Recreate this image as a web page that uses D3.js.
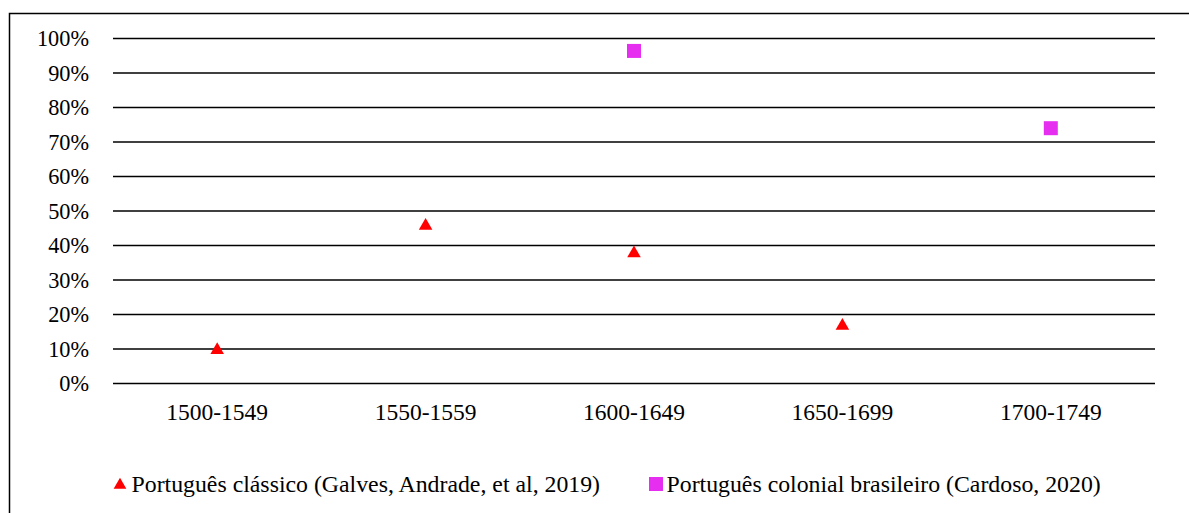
<!DOCTYPE html>
<html>
<head>
<meta charset="utf-8">
<script src="https://cdn.jsdelivr.net/npm/d3@7"></script>
<style>
  body { margin: 0; background: #fff; }
  svg text { font-family: "Liberation Serif", "Times New Roman", "DejaVu Serif", serif; }
</style>
</head>
<body>
<div class="chart"></div>
<script>
const categories = ['1500-1549', '1550-1559', '1600-1649', '1650-1699', '1700-1749']
const yTicks = [0, 0.1, 0.2, 0.3, 0.4, 0.5, 0.6, 0.7, 0.8, 0.9, 1]
// null = no point for that period
const classico = [0.10, 0.46, 0.38, 0.17, null]
const colonial = [null, null, 0.964, null, 0.74]
const seriesNames = [
  'Português clássico (Galves, Andrade, et al, 2019)',
  'Português colonial brasileiro (Cardoso, 2020)'
]

{
  const width = 1189, height = 513
  const margin = { left: 113, right: 34, top: 38.5, bottom: 129.5 }
  const font = "'Liberation Serif', 'Times New Roman', serif"
  const svg = d3.select('.chart').append('svg')
    .attr('width', width)
    .attr('height', height)

  // outer frame (right and bottom edges fall outside the picture)
  svg.append('rect')
    .attr('x', 9.5).attr('y', 13.5)
    .attr('width', width).attr('height', height)
    .attr('fill', 'none')
    .attr('stroke', '#000')
    .attr('stroke-width', 1.5)

  let x = d3.scaleBand()
    .domain(categories)
    .range([margin.left, width - margin.right])
  let y = d3.scaleLinear()
    .domain([0, 1])
    .range([height - margin.bottom, margin.top])
  let cx = cat => x(cat) + x.bandwidth() / 2

  // gridlines
  svg.append('g').selectAll('line')
    .data(yTicks)
    .enter()
    .append('line')
    .attr('x1', margin.left)
    .attr('x2', width - margin.right)
    .attr('y1', d => y(d))
    .attr('y2', d => y(d))
    .attr('stroke', '#000')
    .attr('stroke-width', 1.6)

  // y labels
  svg.append('g').selectAll('text')
    .data(yTicks)
    .enter()
    .append('text')
    .attr('x', 89)
    .attr('y', d => y(d))
    .attr('dy', '0.34em')
    .attr('text-anchor', 'end')
    .attr('font-family', font)
    .attr('font-size', 22.3)
    .text(d => d3.format('.0%')(d))

  // x labels
  svg.append('g').selectAll('text')
    .data(categories)
    .enter()
    .append('text')
    .attr('x', d => cx(d))
    .attr('y', 420)
    .attr('text-anchor', 'middle')
    .attr('font-family', font)
    .attr('font-size', 23.5)
    .text(d => d)

  let tri = d3.symbol().type(d3.symbolTriangle).size(80)

  let classicoPts = classico.map((v, i) => ({ v, cat: categories[i] })).filter(d => d.v !== null)
  svg.append('g').selectAll('path')
    .data(classicoPts)
    .enter()
    .append('path')
    .attr('d', tri)
    .attr('transform', d => `translate(${cx(d.cat)},${y(d.v) + 1})`)
    .attr('fill', '#ff0000')

  let colonialPts = colonial.map((v, i) => ({ v, cat: categories[i] })).filter(d => d.v !== null)
  svg.append('g').selectAll('rect')
    .data(colonialPts)
    .enter()
    .append('rect')
    .attr('x', d => cx(d.cat) - 7)
    .attr('y', d => y(d.v) - 7)
    .attr('width', 14)
    .attr('height', 14)
    .attr('fill', '#e62ef0')

  // legend
  let legend = svg.append('g')
    .attr('font-family', font)
    .attr('font-size', 23.8)
  legend.append('path')
    .attr('d', d3.symbol().type(d3.symbolTriangle).size(70))
    .attr('transform', 'translate(120,485)')
    .attr('fill', '#ff0000')
  legend.append('text')
    .attr('x', 131.5).attr('y', 492)
    .text(seriesNames[0])
  legend.append('rect')
    .attr('x', 649).attr('y', 477)
    .attr('width', 14).attr('height', 14)
    .attr('fill', '#e62ef0')
  legend.append('text')
    .attr('x', 666.5).attr('y', 492)
    .text(seriesNames[1])
}
</script>
</body>
</html>
